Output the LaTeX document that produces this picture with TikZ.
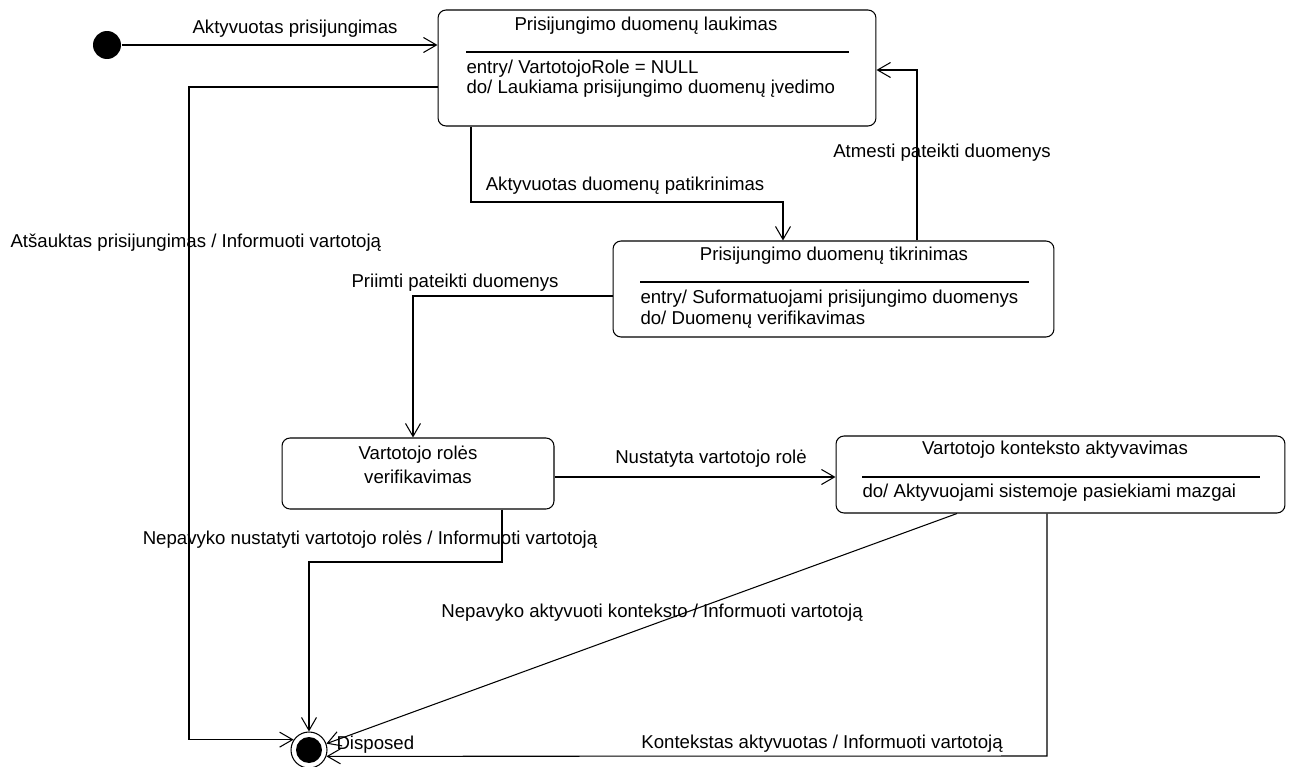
\documentclass[tikz,border=0pt]{standalone}
\usepackage{fontspec}
\setmainfont{Liberation Sans}
\usetikzlibrary{arrows.meta}
\begin{document}
\begin{tikzpicture}[x=0.02cm,y=-0.02cm,
  line width=0.6pt,
  every node/.style={font=\fontsize{10.6}{12.7}\selectfont},
  state/.style={draw, rounded corners=0.16cm, inner sep=0pt},
  trans/.style={-{Straight Barb[length=0.26cm,width=0.3cm]}},
  lbl/.style={inner sep=0pt},
  pseudo/.style={circle, inner sep=0pt}]
\useasboundingbox (0,0) rectangle (1292,767);

% states
\node[state, minimum width=8.76cm, minimum height=2.32cm] (box1) at (657,68) {};
\node[state, minimum width=8.82cm, minimum height=1.92cm] (box2) at (833.5,289) {};
\node[state, minimum width=5.44cm, minimum height=1.42cm] (box3) at (418,473.5) {};
\node[state, minimum width=8.98cm, minimum height=1.54cm] (box4) at (1060.5,474.5) {};

% initial and final pseudostates
\node[pseudo, fill=black, minimum size=0.56cm] (init) at (107,45) {};
\node[pseudo, draw, minimum size=0.72cm] (fin) at (309,750) {};
\fill (fin.center) circle (0.26cm);

% compartments of the states
\node[lbl] (t1) at (646,26) {Prisijungimo duomenų laukimas};
\draw (466,52) -- (849,52);
\node[lbl, anchor=west] (e1) at (466,69) {entry/ VartotojoRole = NULL};
\node[lbl, anchor=west] (d1) at (466,89) {do/ Laukiama prisijungimo duomenų įvedimo};

\node[lbl] (t2) at (834,256) {Prisijungimo duomenų tikrinimas};
\draw (640,282) -- (1029,282);
\node[lbl, anchor=west] (e2) at (640,299) {entry/ Suformatuojami prisijungimo duomenys};
\node[lbl, anchor=west] (d2) at (640,320) {do/ Duomenų verifikavimas};

\node[lbl] (t3a) at (418,455) {Vartotojo rolės};
\node[lbl] (t3b) at (418,477) {verifikavimas};

\node[lbl] (t4) at (1055,450) {Vartotojo konteksto aktyvavimas};
\draw (862,477) -- (1260,477);
\node[lbl, anchor=west] (d4) at (862,493) {do/ Aktyvuojami sistemoje pasiekiami mazgai};

% bend points of the transitions
\coordinate (a1) at (189,87);
\coordinate (a2) at (471,202);
\coordinate (a3) at (783,202);
\coordinate (a4) at (917,70);
\coordinate (a5) at (413,296);
\coordinate (a6) at (0,477);
\coordinate (a7) at (502,562);
\coordinate (a8) at (957,0);
\coordinate (a9) at (1047,756);

% transitions
\draw[trans] (init) -- (init -| box1.west);
\draw[trans] (box1.west |- a1) -- (a1) |- (fin.146);
\draw[trans] (box1.south -| a2) -- (a2) -- (a3) -- (box2.north -| a3);
\draw[trans] (box2.north -| a4) -- (a4) -- (a4 -| box1.east);
\draw[trans] (box2.west |- a5) -- (a5) -- (a5 |- box3.north);
\draw[trans] (box3.east |- a6) -- (box4.west |- a6);
\draw[trans] (box3.south -| a7) -- (a7) -| (fin.north);
\draw[trans] (box4.south -| a8) -- (fin);
\draw[trans] (box4.south -| a9) -- (a9) -- (fin.340);

% transition labels
\node[lbl] (l1) at (295,29) {Aktyvuotas prisijungimas};
\node[lbl, anchor=west] (l2) at (10,243) {Atšauktas prisijungimas / Informuoti vartotoją};
\node[lbl] (l3) at (625,186) {Aktyvuotas duomenų patikrinimas};
\node[lbl] (l4) at (942,153) {Atmesti pateikti duomenys};
\node[lbl] (l5) at (455,283) {Priimti pateikti duomenys};
\node[lbl] (l6) at (711,459) {Nustatyta vartotojo rolė};
\node[lbl] (l7) at (370,540) {Nepavyko nustatyti vartotojo rolės / Informuoti vartotoją};
\node[lbl] (l8) at (652,613) {Nepavyko aktyvuoti konteksto / Informuoti vartotoją};
\node[lbl] (l9) at (822,744) {Kontekstas aktyvuotas / Informuoti vartotoją};
\node[lbl, anchor=west] (l10) at (336,745) {Disposed};
\end{tikzpicture}
\end{document}
